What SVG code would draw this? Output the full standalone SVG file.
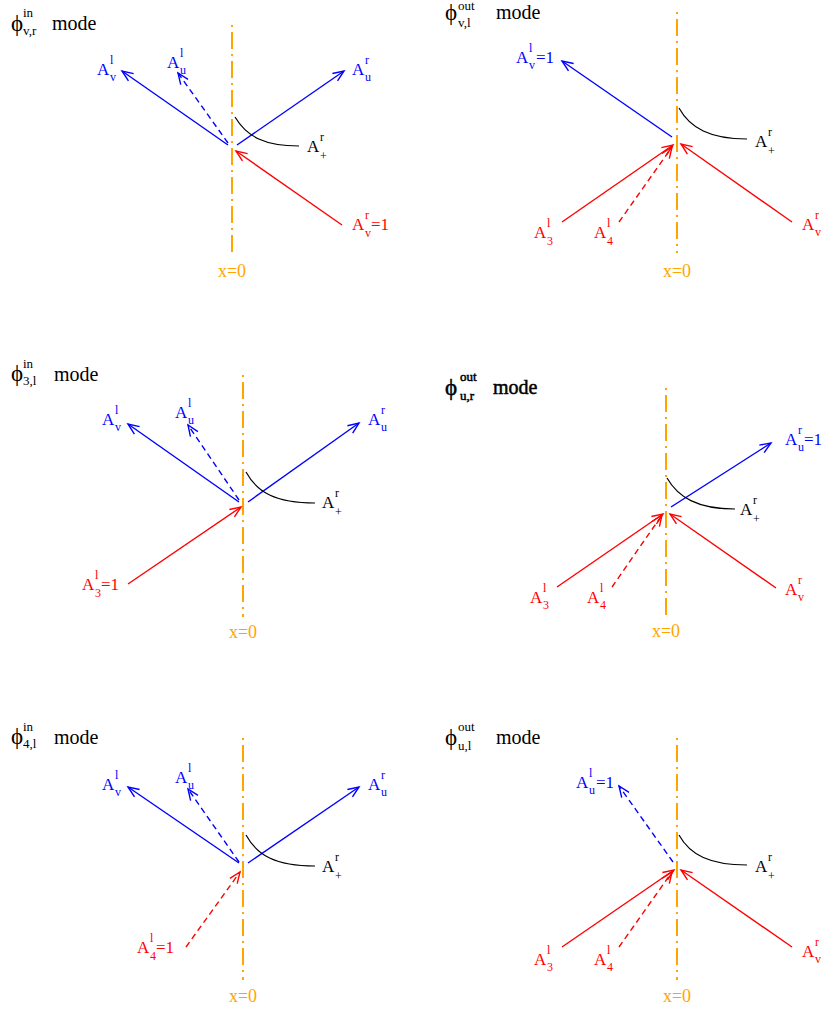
<svg xmlns="http://www.w3.org/2000/svg" width="822" height="1011" viewBox="0 0 822 1011">
<style>
text{font-family:"Liberation Serif","Times New Roman",serif}
.A{font-size:17px}
.s{font-size:12px}
.t{font-size:20px;fill:#000}
.ph{font-size:23px;fill:#000}
.ts{font-size:13px;fill:#000}
.bold{stroke:#000;stroke-width:0.5}
.b{fill:#00f}.r{fill:#f00}.k{fill:#000}.o{fill:#ffa500;font-size:18px;text-anchor:middle}
.ax{stroke:#ffa500;stroke-width:2;fill:none;stroke-dasharray:2 5 17 5}
.bl{stroke:#00f;stroke-width:1.4;fill:none;marker-end:url(#mb)}
.rl{stroke:#f00;stroke-width:1.4;fill:none;marker-end:url(#mr)}
.d{stroke-dasharray:6 4}
.cv{stroke:#000;stroke-width:1.2;fill:none}
</style>
<defs>
<marker id="mb" markerUnits="userSpaceOnUse" viewBox="-13 -7 15 14" refX="0" refY="0" markerWidth="15" markerHeight="14" orient="auto">
<path d="M-11,-4.5 L0,0 L-11,4.5" fill="none" stroke="#00f" stroke-width="1.4"/>
</marker>
<marker id="mr" markerUnits="userSpaceOnUse" viewBox="-13 -7 15 14" refX="0" refY="0" markerWidth="15" markerHeight="14" orient="auto">
<path d="M-11,-4.5 L0,0 L-11,4.5" fill="none" stroke="#f00" stroke-width="1.4"/>
</marker>
</defs>

<g id="connectors">
<!-- panel 1 -->
<path class="ax" d="M232,25 V255"/>
<path class="bl" d="M228,145 L122,71"/>
<path class="bl d" d="M228,143 L178,73"/>
<path class="bl" d="M237,145 L344,71"/>
<path class="rl" d="M342,225 L236,151"/>
<path class="cv" d="M235,117 C247,137 265,146 299,146"/>
<!-- panel 2 -->
<path class="ax" d="M677,12 V253"/>
<path class="bl" d="M672,137 L562,61"/>
<path class="cv" d="M679,108 C690,128 710,139 747,139"/>
<path class="rl" d="M562,222 L673,145"/>
<path class="rl d" d="M619,222 L672,147"/>
<path class="rl" d="M792,222 L681,144"/>
<!-- panel 3 -->
<path class="ax" d="M243,375 V617"/>
<path class="bl" d="M239,502 L128,424"/>
<path class="bl d" d="M239,500 L188,425"/>
<path class="bl" d="M248,502 L359,423"/>
<path class="cv" d="M246,472 C257,492 275,503 315,503"/>
<path class="rl" d="M128,584 L241,507"/>
<!-- panel 4 -->
<path class="ax" d="M666,388 V618"/>
<path class="bl" d="M671,507 L771,443"/>
<path class="cv" d="M667,478 C678,497 697,509 735,509"/>
<path class="rl" d="M557,587 L663,514"/>
<path class="rl d" d="M612,587 L662,515"/>
<path class="rl" d="M776,588 L670,514"/>
<!-- panel 5 -->
<path class="ax" d="M243,738 V980"/>
<path class="bl" d="M239,863 L128,787"/>
<path class="bl d" d="M239,862 L188,789"/>
<path class="bl" d="M248,863 L359,787"/>
<path class="cv" d="M246,835 C257,855 275,866 315,866"/>
<path class="rl d" d="M186,947 L240,872"/>
<!-- panel 6 -->
<path class="ax" d="M677,738 V980"/>
<path class="bl d" d="M673,862 L619,786"/>
<path class="cv" d="M679,835 C690,855 710,865 747,865"/>
<path class="rl" d="M562,947 L674,870"/>
<path class="rl d" d="M619,947 L672,872"/>
<path class="rl" d="M792,947 L681,870"/>
</g>

<!-- Panel 1 -->
<g id="p1-title"><text class="ph" x="11" y="31">ϕ</text><text class="ts" x="23" y="17">in</text><text class="ts" x="23" y="35">v,r</text><text class="t" x="52" y="30">mode</text></g>
<g id="p1-Avl" class="b"><text class="A" x="97" y="75">A</text><text class="s" x="110" y="64">l</text><text class="s" x="110" y="81">v</text></g>
<g id="p1-Aul" class="b"><text class="A" x="167" y="68">A</text><text class="s" x="180" y="57">l</text><text class="s" x="180" y="74">u</text></g>
<g id="p1-Aur" class="b"><text class="A" x="352" y="75">A</text><text class="s" x="365" y="64">r</text><text class="s" x="365" y="81">u</text></g>
<g id="p1-Apr" class="k"><text class="A" x="307" y="152">A</text><text class="s" x="320" y="141">r</text><text class="s" x="320" y="160">+</text></g>
<g id="p1-Avr" class="r"><text class="A" x="352" y="230">A</text><text class="s" x="365" y="219">r</text><text class="s" x="365" y="237">v</text><text class="A" x="371" y="230">=1</text></g>
<g id="p1-x0"><text class="o" x="232" y="277">x=0</text></g>

<!-- Panel 2 -->
<g id="p2-title"><text class="ph" x="445" y="20">ϕ</text><text class="ts" x="458" y="10">out</text><text class="ts" x="458" y="27">v,l</text><text class="t" x="496" y="19">mode</text></g>
<g id="p2-Avl" class="b"><text class="A" x="516" y="63">A</text><text class="s" x="529" y="52">l</text><text class="s" x="529" y="69">v</text><text class="A" x="536" y="63">=1</text></g>
<g id="p2-Apr" class="k"><text class="A" x="755" y="147">A</text><text class="s" x="768" y="136">r</text><text class="s" x="768" y="155">+</text></g>
<g id="p2-A3l" class="r"><text class="A" x="534" y="238">A</text><text class="s" x="547" y="227">l</text><text class="s" x="547" y="245">3</text></g>
<g id="p2-A4l" class="r"><text class="A" x="594" y="238">A</text><text class="s" x="607" y="227">l</text><text class="s" x="607" y="245">4</text></g>
<g id="p2-Avr" class="r"><text class="A" x="802" y="230">A</text><text class="s" x="815" y="219">r</text><text class="s" x="815" y="236">v</text></g>
<g id="p2-x0"><text class="o" x="677" y="277">x=0</text></g>

<!-- Panel 3 -->
<g id="p3-title"><text class="ph" x="11" y="381">ϕ</text><text class="ts" x="23" y="368">in</text><text class="ts" x="23" y="385">3,l</text><text class="t" x="54" y="381">mode</text></g>
<g id="p3-Avl" class="b"><text class="A" x="102" y="425">A</text><text class="s" x="115" y="414">l</text><text class="s" x="115" y="431">v</text></g>
<g id="p3-Aul" class="b"><text class="A" x="175" y="418">A</text><text class="s" x="188" y="407">l</text><text class="s" x="188" y="424">u</text></g>
<g id="p3-Aur" class="b"><text class="A" x="368" y="425">A</text><text class="s" x="381" y="414">r</text><text class="s" x="381" y="431">u</text></g>
<g id="p3-Apr" class="k"><text class="A" x="322" y="508">A</text><text class="s" x="335" y="497">r</text><text class="s" x="335" y="516">+</text></g>
<g id="p3-A3l" class="r"><text class="A" x="82" y="590">A</text><text class="s" x="95" y="579">l</text><text class="s" x="95" y="597">3</text><text class="A" x="101" y="590">=1</text></g>
<g id="p3-x0"><text class="o" x="243" y="638">x=0</text></g>

<!-- Panel 4 -->
<g id="p4-title" class="bold"><text class="ph" x="445" y="395">ϕ</text><text class="ts" x="460" y="381">out</text><text class="ts" x="460" y="400">u,r</text><text class="t" x="493" y="394">mode</text></g>
<g id="p4-Aur" class="b"><text class="A" x="785" y="445">A</text><text class="s" x="798" y="434">r</text><text class="s" x="798" y="451">u</text><text class="A" x="804" y="445">=1</text></g>
<g id="p4-Apr" class="k"><text class="A" x="740" y="515">A</text><text class="s" x="753" y="504">r</text><text class="s" x="753" y="523">+</text></g>
<g id="p4-A3l" class="r"><text class="A" x="530" y="603">A</text><text class="s" x="543" y="592">l</text><text class="s" x="543" y="609">3</text></g>
<g id="p4-A4l" class="r"><text class="A" x="587" y="603">A</text><text class="s" x="600" y="592">l</text><text class="s" x="600" y="609">4</text></g>
<g id="p4-Avr" class="r"><text class="A" x="785" y="595">A</text><text class="s" x="798" y="584">r</text><text class="s" x="798" y="601">v</text></g>
<g id="p4-x0"><text class="o" x="666" y="637">x=0</text></g>

<!-- Panel 5 -->
<g id="p5-title"><text class="ph" x="11" y="744">ϕ</text><text class="ts" x="23" y="731">in</text><text class="ts" x="23" y="748">4,l</text><text class="t" x="54" y="744">mode</text></g>
<g id="p5-Avl" class="b"><text class="A" x="102" y="790">A</text><text class="s" x="115" y="779">l</text><text class="s" x="115" y="796">v</text></g>
<g id="p5-Aul" class="b"><text class="A" x="175" y="783">A</text><text class="s" x="188" y="772">l</text><text class="s" x="188" y="789">u</text></g>
<g id="p5-Aur" class="b"><text class="A" x="368" y="790">A</text><text class="s" x="381" y="779">r</text><text class="s" x="381" y="796">u</text></g>
<g id="p5-Apr" class="k"><text class="A" x="322" y="872">A</text><text class="s" x="335" y="861">r</text><text class="s" x="335" y="880">+</text></g>
<g id="p5-A4l" class="r"><text class="A" x="137" y="953">A</text><text class="s" x="150" y="942">l</text><text class="s" x="150" y="960">4</text><text class="A" x="156" y="953">=1</text></g>
<g id="p5-x0"><text class="o" x="243" y="1002">x=0</text></g>

<!-- Panel 6 -->
<g id="p6-title"><text class="ph" x="445" y="745">ϕ</text><text class="ts" x="458" y="731">out</text><text class="ts" x="458" y="750">u,l</text><text class="t" x="496" y="744">mode</text></g>
<g id="p6-Aul" class="b"><text class="A" x="576" y="788">A</text><text class="s" x="589" y="777">l</text><text class="s" x="589" y="794">u</text><text class="A" x="596" y="788">=1</text></g>
<g id="p6-Apr" class="k"><text class="A" x="755" y="872">A</text><text class="s" x="768" y="861">r</text><text class="s" x="768" y="880">+</text></g>
<g id="p6-A3l" class="r"><text class="A" x="534" y="965">A</text><text class="s" x="547" y="954">l</text><text class="s" x="547" y="971">3</text></g>
<g id="p6-A4l" class="r"><text class="A" x="594" y="965">A</text><text class="s" x="607" y="954">l</text><text class="s" x="607" y="971">4</text></g>
<g id="p6-Avr" class="r"><text class="A" x="802" y="957">A</text><text class="s" x="815" y="946">r</text><text class="s" x="815" y="963">v</text></g>
<g id="p6-x0"><text class="o" x="677" y="1002">x=0</text></g>
</svg>
